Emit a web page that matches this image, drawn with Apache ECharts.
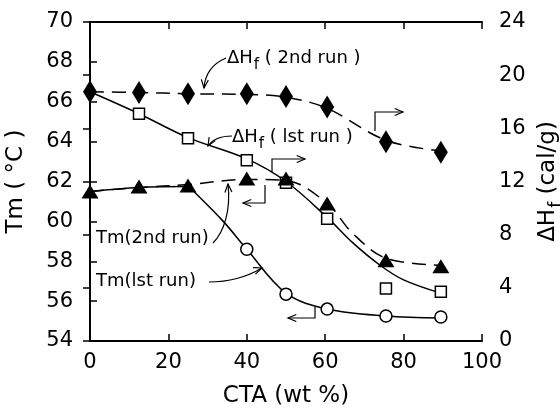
<!DOCTYPE html>
<html>
<head>
<meta charset="utf-8">
<script src="https://cdn.jsdelivr.net/npm/echarts@6/dist/echarts.min.js"></script>
<style>
  html, body { margin: 0; padding: 0; background: #fff; }
  #main { width: 560px; height: 409px; }
</style>
</head>
<body>
<div id="main"></div>
<script>
var chart = echarts.init(document.getElementById('main'));

// CTA content (wt %) and the values
var dhf1Points = [[12.5, 17.1], [25, 15.25], [40, 13.6], [50, 11.9], [60.5, 9.2], [75.5, 3.95], [89.5, 3.7]];
var dhf2Points = [[0, 18.75], [12.5, 18.7], [25, 18.6], [40, 18.6], [50, 18.4], [60.5, 17.6], [75.5, 15.0], [89.5, 14.2]];
var tm2Points = [[0, 61.5], [12.5, 61.75], [25, 61.8], [40, 62.15], [50, 62.15], [60.5, 60.9], [75.5, 58.05], [89.5, 57.75]];
var tm1Points = [[40, 58.6], [50, 56.35], [60.5, 55.6], [75.5, 55.25], [89.5, 55.2]];

// hand drawn fit curves
var dhf1Curve = [[0, 18.75], [12.5, 17.1], [25, 15.3], [40, 13.7], [50, 12.0], [60.5, 9.3], [67, 7.4], [74, 5.7], [80, 4.6], [89.5, 3.6]];
var dhf2Curve = [[0, 18.75], [12.5, 18.7], [25, 18.6], [40, 18.55], [50, 18.35], [60.5, 17.5], [75.5, 15.1], [89.5, 14.3]];
var tm2Curve = [[0, 61.5], [12.5, 61.7], [25, 61.85], [40, 62.1], [50, 62.05], [60.5, 60.9], [67, 59.4], [75.5, 58.15], [89.5, 57.8]];
var tm1Curve = [[0, 61.5], [12.5, 61.7], [25, 61.75], [27, 61.4], [34, 60.0], [40, 58.6], [50, 56.4], [60.5, 55.6], [75.5, 55.25], [89.5, 55.15]];

var xTicks = [0, 100, 20];
var tmTicks = [54, 70, 2];
var dhTicks = [0, 24, 4];

var font = 'DejaVu Sans';

function arrowHead(x, y, ang) {
    var L = 9, s = 0.4;
    return {
        type: 'polyline',
        shape: {
            points: [
                [x - L * Math.cos(ang - s), y - L * Math.sin(ang - s)],
                [x, y],
                [x - L * Math.cos(ang + s), y - L * Math.sin(ang + s)]
            ]
        },
        style: { stroke: '#000', lineWidth: 1.2, fill: null }
    };
}

function line(pts) {
    return {
        type: 'polyline',
        shape: { points: pts },
        style: { stroke: '#000', lineWidth: 1.2, fill: null }
    };
}

function curve(x1, y1, cx1, cy1, cx2, cy2, x2, y2) {
    return {
        type: 'bezierCurve',
        shape: { x1: x1, y1: y1, cpx1: cx1, cpy1: cy1, cpx2: cx2, cpy2: cy2, x2: x2, y2: y2 },
        style: { stroke: '#000', lineWidth: 1.2, fill: null }
    };
}

var richDH = {
    a: { fontFamily: font, fontSize: 18, color: '#000' },
    s: { fontFamily: font, fontSize: 15, color: '#000', padding: [14, 0, 0, 1] }
};

function label(x, y, txt) {
    return {
        type: 'text',
        x: x, y: y,
        style: { text: txt, font: '18px "DejaVu Sans"', fill: '#000', textVerticalAlign: 'middle', rich: richDH }
    };
}

var graphics = [
    label(227, 58, '{a|ΔH}{s|f}{a| ( 2nd run )}'),
    curve(226, 58, 212, 64, 205, 74, 204, 88),
    arrowHead(204, 88, Math.PI / 2 + 0.1),

    label(232, 137, '{a|ΔH}{s|f}{a| ( lst run )}'),
    curve(232, 136, 220, 136, 212, 140, 208, 146),
    arrowHead(208, 146, 2.1),

    line([[272, 172], [272, 159], [305, 159]]),
    arrowHead(305, 159, 0),
    line([[375, 131], [375, 112], [403, 112]]),
    arrowHead(403, 112, 0),
    line([[265, 185], [265, 203], [243, 203]]),
    arrowHead(243, 203, Math.PI),
    line([[315, 307], [315, 318], [288, 318]]),
    arrowHead(288, 318, Math.PI),

    label(96, 238, '{a|Tm(2nd run)}'),
    curve(213, 243, 224, 232, 231, 210, 228, 184),
    arrowHead(228, 184, -Math.PI / 2 - 0.05),

    label(96, 281, '{a|Tm(lst run)}'),
    curve(209, 282, 228, 282, 245, 278, 262, 268),
    arrowHead(262, 268, -0.35)
];

var axisText = { fontFamily: font, fontSize: 21, color: '#000' };

chart.setOption({
    backgroundColor: '#fff',
    animation: false,
    grid: { left: 90, top: 22, right: 78, bottom: 68, outerBoundsMode: 'none', containLabel: false },
    xAxis: [{
        type: 'value', min: xTicks[0], max: xTicks[1], interval: xTicks[2],
        position: 'bottom',
        axisLine: { show: true, lineStyle: { color: '#000', width: 2 } },
        axisTick: { inside: true, length: 7, lineStyle: { color: '#000', width: 1.5 } },
        axisLabel: Object.assign({ margin: 11 }, axisText),
        splitLine: { show: false },
        name: 'CTA (wt %)',
        nameLocation: 'middle',
        nameGap: 44,
        nameTextStyle: { fontFamily: font, fontSize: 23, color: '#000' }
    }, {
        type: 'value', min: xTicks[0], max: xTicks[1], interval: xTicks[2],
        position: 'top',
        axisLine: { show: true, lineStyle: { color: '#000', width: 2 } },
        axisTick: { inside: true, length: 7, lineStyle: { color: '#000', width: 1.5 } },
        axisLabel: { show: false },
        splitLine: { show: false }
    }],
    yAxis: [{
        type: 'value', min: tmTicks[0], max: tmTicks[1], interval: tmTicks[2],
        position: 'left',
        axisLine: { show: true, lineStyle: { color: '#000', width: 2 } },
        axisTick: { inside: true, length: 7, lineStyle: { color: '#000', width: 1.5 } },
        axisLabel: Object.assign({ margin: 17 }, axisText),
        splitLine: { show: false },
        name: 'Tm ( °C )',
        nameLocation: 'middle',
        nameRotate: 90,
        nameGap: 62,
        nameTextStyle: { fontFamily: font, fontSize: 23, color: '#000' }
    }, {
        type: 'value', min: dhTicks[0], max: dhTicks[1], interval: dhTicks[2],
        position: 'right',
        axisLine: { show: true, lineStyle: { color: '#000', width: 2 } },
        axisTick: { inside: true, length: 7, lineStyle: { color: '#000', width: 1.5 } },
        axisLabel: Object.assign({ margin: 17 }, axisText),
        splitLine: { show: false },
        name: '{a|ΔH}{s|f}{a| (cal/g)}',
        nameLocation: 'middle',
        nameRotate: 90,
        nameGap: 50,
        nameTextStyle: {
            rich: {
                a: { fontFamily: font, fontSize: 23, color: '#000' },
                s: { fontFamily: font, fontSize: 17, color: '#000', padding: [16, 0, 0, 1] }
            }
        }
    }],
    series: [{
        type: 'line', yAxisIndex: 1, data: dhf1Curve, smooth: 0.35, symbol: 'none',
        lineStyle: { color: '#000', width: 1.5 }, z: 2
    }, {
        type: 'line', yAxisIndex: 1, data: dhf2Curve, smooth: 0.35, symbol: 'none',
        lineStyle: { color: '#000', width: 1.5, type: [14, 8] }, z: 2
    }, {
        type: 'line', yAxisIndex: 0, data: tm2Curve, smooth: 0.35, symbol: 'none',
        lineStyle: { color: '#000', width: 1.5, type: [14, 8] }, z: 2
    }, {
        type: 'line', yAxisIndex: 0, data: tm1Curve, smooth: 0.35, symbol: 'none',
        lineStyle: { color: '#000', width: 1.5 }, z: 2
    }, {
        type: 'scatter', yAxisIndex: 1, data: dhf1Points, symbol: 'rect', symbolSize: 11,
        itemStyle: { color: '#fff', borderColor: '#000', borderWidth: 1.5, opacity: 1 }, z: 3
    }, {
        type: 'scatter', yAxisIndex: 0, data: tm1Points, symbol: 'circle', symbolSize: 12,
        itemStyle: { color: '#fff', borderColor: '#000', borderWidth: 1.5, opacity: 1 }, z: 3
    }, {
        type: 'scatter', yAxisIndex: 0, data: tm2Points, symbol: 'triangle', symbolSize: [17, 14],
        itemStyle: { color: '#000', opacity: 1 }, z: 4
    }, {
        type: 'scatter', yAxisIndex: 1, data: dhf2Points, symbol: 'diamond', symbolSize: [14, 23],
        itemStyle: { color: '#000', opacity: 1 }, z: 4
    }],
    graphic: graphics
});
</script>
</body>
</html>
